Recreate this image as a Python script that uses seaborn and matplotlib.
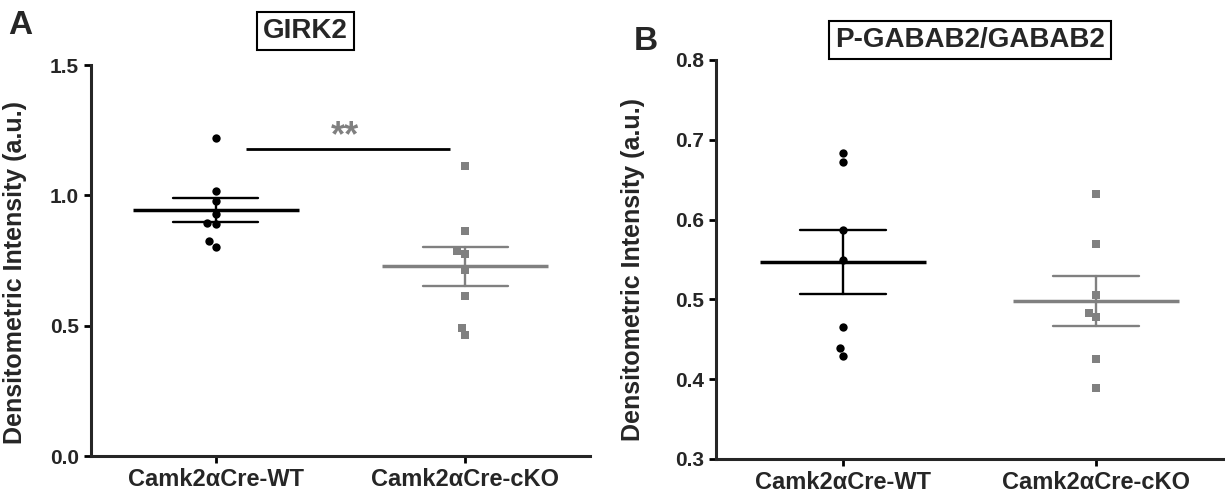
"""
Densitometry scatter plots (GIRK2 and P-GABAB2/GABAB2), WT vs cKO.
Points are individual animals, bars are mean +/- SEM.
"""

import matplotlib
matplotlib.use("Agg")
import matplotlib.pyplot as plt
from matplotlib import font_manager
import pandas as pd
import seaborn as sns

groups = ["Camk2\u03b1Cre-WT", "Camk2\u03b1Cre-cKO"]

girk2_wt = [1.221, 1.018, 0.979, 0.927, 0.893, 0.889, 0.825, 0.803]
girk2_cko = [1.112, 0.863, 0.788, 0.775, 0.713, 0.614, 0.492, 0.463]

gabab_wt = [0.683, 0.672, 0.587, 0.549, 0.466, 0.439, 0.429]
gabab_cko = [0.632, 0.570, 0.505, 0.483, 0.478, 0.425, 0.389]

girk2_ticks = [0.0, 0.5, 1.0, 1.5]
gabab_ticks = [0.3, 0.4, 0.5, 0.6, 0.7, 0.8]

colors = {groups[0]: "black", groups[1]: "#808080"}
markers = {groups[0]: "o", groups[1]: "s"}

sns.set_style("ticks")
plt.rcParams["font.family"] = ["Liberation Sans", "DejaVu Sans"]
plt.rcParams["font.weight"] = "bold"

# panel B title looks condensed in the original; use the narrow cut if present
installed = {f.name for f in font_manager.fontManager.ttflist}
if "Liberation Sans Narrow" in installed:
    title_b_font = {"family": ["Liberation Sans Narrow", "Liberation Sans"],
                    "size": 24}
else:
    title_b_font = {"family": ["Liberation Sans", "DejaVu Sans"], "size": 20}


def make_frame(wt, cko):
    return pd.DataFrame({
        "group": [groups[0]] * len(wt) + [groups[1]] * len(cko),
        "value": wt + cko,
    })


def draw_panel(ax, df, ticks, title, title_xy, title_font):
    # mean +/- SEM
    sns.pointplot(data=df, x="group", y="value", hue="group", order=groups,
                  hue_order=groups, palette=colors, errorbar="se",
                  capsize=0.34, linestyle="none", marker="_",
                  markersize=119, markeredgewidth=2.5,
                  err_kws={"linewidth": 1.7}, legend=False, ax=ax)
    # individual animals
    for g in groups:
        sub = df[df["group"] == g]
        sns.swarmplot(data=sub, x="group", y="value", order=groups,
                      color=colors[g], marker=markers[g], size=6,
                      linewidth=0, ax=ax)

    ax.set_xlim(-0.5, 1.5)
    ax.set_ylim(ticks[0], ticks[-1])
    ax.set_yticks(ticks)
    ax.set_yticklabels([f"{t:.1f}" for t in ticks], fontsize=15,
                       fontweight="bold")
    ax.set_xticks(range(len(groups)))
    ax.set_xticklabels(groups, fontsize=17, fontweight="bold")
    ax.set_xlabel("")
    ax.set_ylabel("Densitometric Intensity (a.u.)", fontsize=18,
                  fontweight="bold")
    sns.despine(ax=ax)
    for side in ["left", "bottom"]:
        ax.spines[side].set_linewidth(2.2)
    ax.tick_params(width=2, length=5, color="black")

    ax.text(*title_xy, title, transform=ax.transAxes, ha="center",
            va="center", fontweight="bold",
            bbox=dict(boxstyle="square,pad=0.22", fc="white", ec="black",
                      lw=1.5), **title_font)


fig = plt.figure(figsize=(12.25, 4.94), dpi=100)
ax_a = fig.add_axes([0.0743, 0.0769, 0.4073, 0.7915])
ax_b = fig.add_axes([0.5845, 0.0709, 0.4140, 0.8077])

draw_panel(ax_a, make_frame(girk2_wt, girk2_cko), girk2_ticks, "GIRK2",
           (0.43, 1.087), {"size": 20})
draw_panel(ax_b, make_frame(gabab_wt, gabab_cko), gabab_ticks,
           "P-GABAB2/GABAB2", (0.5, 1.051), title_b_font)

ax_a.yaxis.set_label_coords(-0.128, 0.47)
ax_b.yaxis.set_label_coords(-0.14, 0.474)

# significance bar, panel A
ax_a.hlines(1.176, 0.12, 0.94, color="black", linewidth=2)
ax_a.text(0.52, 1.19, "**", ha="center", va="baseline", fontsize=26,
          fontweight="bold", color="#808080")

fig.text(8 / 1225, 1 - 10 / 494, "A", ha="left", va="top", fontsize=24,
         fontweight="bold")
fig.text(634 / 1225, 1 - 26 / 494, "B", ha="left", va="top", fontsize=24,
         fontweight="bold")

fig.savefig("out.png", dpi=100)
